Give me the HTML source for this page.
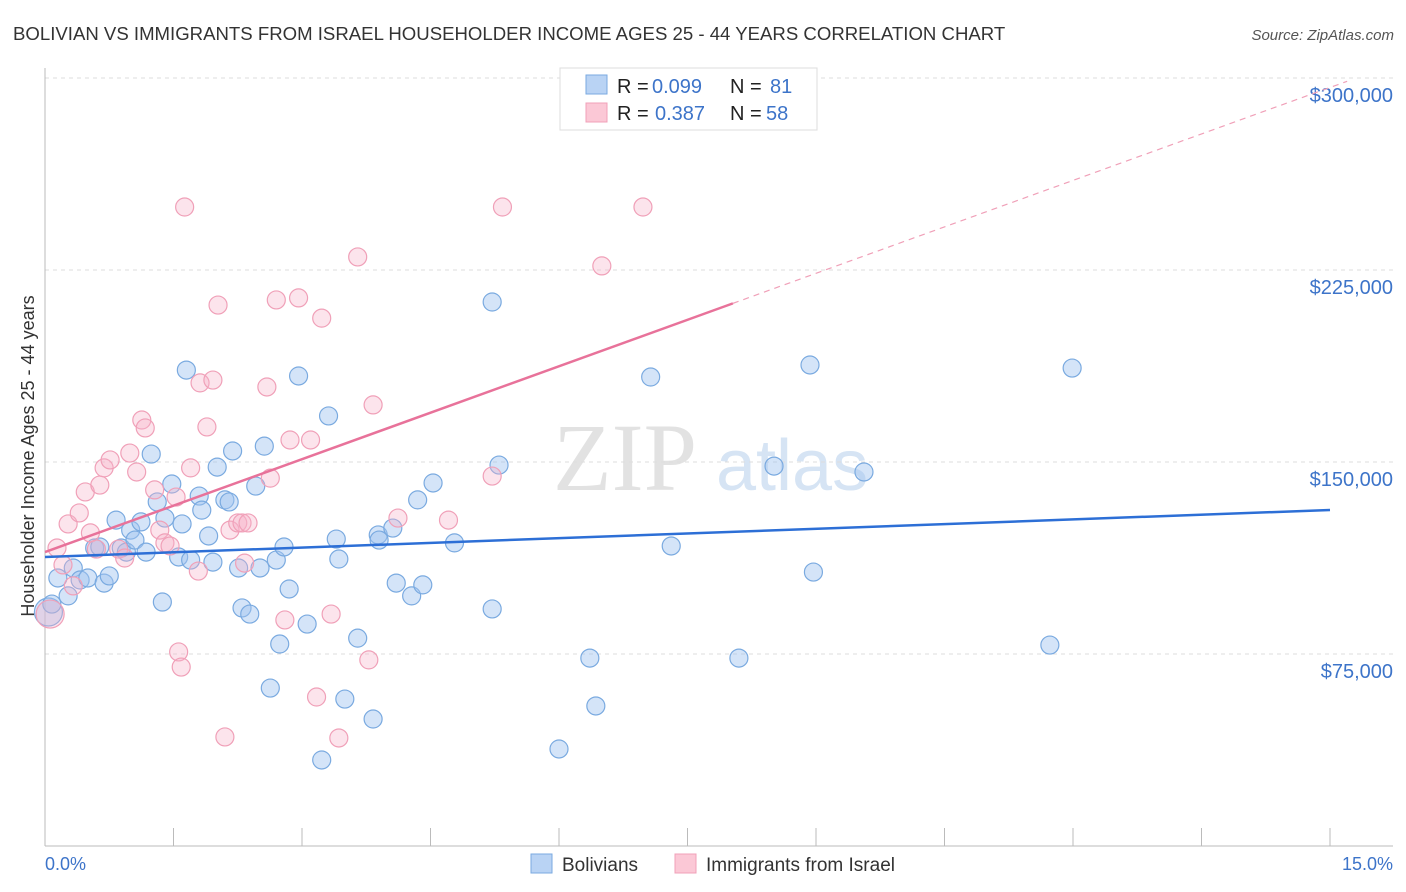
<!DOCTYPE html>
<html><head><meta charset="utf-8">
<style>
body{margin:0;background:#fff;font-family:"Liberation Sans",sans-serif;}
svg{display:block}
</style></head><body>
<svg id="chart" width="1406" height="892" xmlns="http://www.w3.org/2000/svg">
<text x="13" y="40" font-size="18.6" fill="#333">BOLIVIAN VS IMMIGRANTS FROM ISRAEL HOUSEHOLDER INCOME AGES 25 - 44 YEARS CORRELATION CHART</text>
<text x="1394" y="40" font-size="15" fill="#555" font-style="italic" text-anchor="end">Source: ZipAtlas.com</text>
<g>
<text x="553" y="490" font-size="96" fill="#e2e2e2" font-family="Liberation Serif,serif">ZIP</text>
<text x="716" y="490" font-size="72" fill="#d6e4f4">atlas</text>
</g>
<g id="grid"></g>
<g id="axes"></g>
<g id="marks"></g>
<text transform="translate(34,456) rotate(-90)" font-size="18" fill="#333" text-anchor="middle">Householder Income Ages 25 - 44 years</text>
<text x="45" y="870" font-size="18" fill="#3d74c9">0.0%</text>
<text x="1393" y="870" font-size="18" fill="#3d74c9" text-anchor="end">15.0%</text>
<g>
<rect x="560" y="68" width="257" height="62" fill="#fff" stroke="#ddd"/>
<rect x="586" y="75" width="21" height="19" fill="#b9d3f4" stroke="#7aaae0"/>
<rect x="586" y="103" width="21" height="19" fill="#fbc8d6" stroke="#f0a0b8"/>
<text x="617" y="93" font-size="20" fill="#222">R = <tspan x="652" fill="#3d74c9">0.099</tspan><tspan x="730">N = </tspan><tspan x="770" fill="#3d74c9">81</tspan></text>
<text x="617" y="120" font-size="20" fill="#222">R = <tspan x="655" fill="#3d74c9">0.387</tspan><tspan x="730">N = </tspan><tspan x="766" fill="#3d74c9">58</tspan></text>
</g>
<g>
<rect x="531" y="854" width="21" height="19" fill="#b9d3f4" stroke="#7aaae0"/>
<text x="562" y="871" font-size="19" fill="#333">Bolivians</text>
<rect x="675" y="854" width="21" height="19" fill="#fbc8d6" stroke="#f0a0b8"/>
<text x="706" y="871" font-size="19" fill="#333">Immigrants from Israel</text>
</g>
</svg>
<script>
const yTickValues=[75000,150000,225000,300000];
const yTickLabels=["$75,000","$150,000","$225,000","$300,000"];
const xTickValues=[0,1.5,3,4.5,6,7.5,9,10.5,12,13.5,15];
const bolX=[0.04,0.08,0.15,0.27,0.33,0.41,0.50,0.58,0.64,0.69,0.75,0.83,0.89,0.95,1.00,1.05,1.12,1.18,1.24,1.31,1.37,1.40,1.48,1.56,1.60,1.65,1.70,1.80,1.83,1.91,1.96,2.01,2.10,2.15,2.19,2.26,2.30,2.39,2.46,2.51,2.56,2.63,2.70,2.74,2.79,2.85,2.96,3.06,3.23,3.31,3.40,3.43,3.50,3.65,3.83,3.89,3.90,4.06,4.10,4.28,4.35,4.41,4.53,4.78,5.22,5.22,5.30,6.00,6.36,6.43,7.07,7.31,8.10,8.51,8.93,8.97,9.56,11.73,11.99];
const bolY=[91.4,94.5,104.7,97.7,108.6,103.9,104.7,116.4,116.8,102.7,105.5,127.3,116.4,114.8,123.4,119.5,126.6,114.8,153.1,134.4,95.3,128.1,141.4,112.9,125.8,185.9,111.7,136.7,131.2,121.1,110.9,148.0,135.2,134.4,154.3,108.6,93.0,90.6,140.6,108.6,156.2,61.7,111.7,78.9,116.8,100.4,183.6,86.7,33.6,168.0,119.9,112.1,57.4,81.2,49.6,121.5,119.5,124.2,102.7,97.7,135.2,102.0,141.8,118.4,212.5,92.6,148.8,37.9,73.4,54.7,183.2,117.2,73.4,148.4,187.9,107.0,146.1,78.5,186.7];
const isrX=[0.06,0.14,0.21,0.27,0.33,0.40,0.47,0.53,0.60,0.64,0.69,0.76,0.86,0.93,0.99,1.07,1.13,1.17,1.28,1.34,1.40,1.46,1.53,1.56,1.59,1.63,1.70,1.79,1.81,1.89,1.96,2.02,2.10,2.16,2.25,2.30,2.33,2.37,2.59,2.63,2.70,2.80,2.86,2.96,3.10,3.17,3.23,3.34,3.43,3.65,3.78,3.83,4.12,4.71,5.22,5.34,6.50,6.98];
const isrY=[90.6,116.4,109.8,125.8,101.6,130.1,138.3,122.3,116.0,141.0,147.7,150.8,116.0,112.5,153.5,146.1,166.4,163.3,139.1,123.4,118.4,117.2,136.3,75.8,69.9,249.6,147.7,107.4,180.9,163.7,182.0,211.3,42.6,123.4,126.2,126.2,110.5,126.2,179.3,143.7,213.3,88.3,158.6,214.1,158.6,58.2,206.2,90.6,42.2,230.1,72.7,172.3,128.1,127.3,144.5,249.6,226.6,249.6];
const bolTrend=[112.9,131.25];
const isrTrend=[114.8,12.1];
const isrSolidEnd=8.03, isrDashEnd=15.2;

const NS="http://www.w3.org/2000/svg";
const X=v=>45+v/15*1285;
const Y=v=>654-(v-75000)/75000*192;
function mk(tag,attrs,parent){const e=document.createElementNS(NS,tag);for(const k in attrs)e.setAttribute(k,attrs[k]);parent.appendChild(e);return e;}
const grid=document.getElementById('grid'),axes=document.getElementById('axes'),marks=document.getElementById('marks');
yTickValues.forEach((v,i)=>{
  const l=mk('line',{x1:45,x2:1393,y1:Y(v),y2:Y(v),stroke:'#ddd','stroke-dasharray':'4,4'},grid);
  
  
  const t=mk('text',{x:1393,y:Y(v)+24,'font-size':20,fill:'#3d74c9','text-anchor':'end'},axes);
  t.textContent=yTickLabels[i];
  
  
});
const topLine=mk('line',{x1:45,x2:1393,y1:78,y2:78,stroke:'#ddd','stroke-dasharray':'4,4'},grid);


const ya=mk('line',{x1:45,x2:45,y1:68,y2:846,stroke:'#bbb'},axes);


const xa=mk('line',{x1:45,x2:1393,y1:846,y2:846,stroke:'#bbb'},axes);


xTickValues.forEach(v=>{
  const t=mk('line',{x1:X(v),x2:X(v),y1:828,y2:846,stroke:'#bbb'},axes);
  
  
});
function dot(x,y,r,fill,stroke,name){
  const c=mk('circle',{cx:X(x),cy:Y(y*1000),r:r,fill:fill,stroke:stroke,'stroke-width':1.2},marks);
  
  
}
bolX.forEach((x,i)=>dot(x,bolY[i],i===0?14:9,'rgba(160,196,240,0.45)','#7aaae0','bolivian-point'));
isrX.forEach((x,i)=>dot(x,isrY[i],i===0?14:9,'rgba(246,178,200,0.35)','#f0a0b8','israel-point'));
const bl=mk('line',{x1:X(0),y1:Y(bolTrend[0]*1000),x2:X(15),y2:Y(bolTrend[1]*1000),stroke:'#2d6fd6','stroke-width':2.5},marks);


const iy=x=>Y((isrTrend[0]+isrTrend[1]*x)*1000);
const pl=mk('line',{x1:X(0),y1:iy(0),x2:X(isrSolidEnd),y2:iy(isrSolidEnd),stroke:'#e8729a','stroke-width':2.5},marks);


const pd=mk('line',{x1:X(isrSolidEnd),y1:iy(isrSolidEnd),x2:X(isrDashEnd),y2:iy(isrDashEnd),stroke:'#f0a0b8','stroke-width':1.2,'stroke-dasharray':'6,5'},marks);


</script>
</body></html>
